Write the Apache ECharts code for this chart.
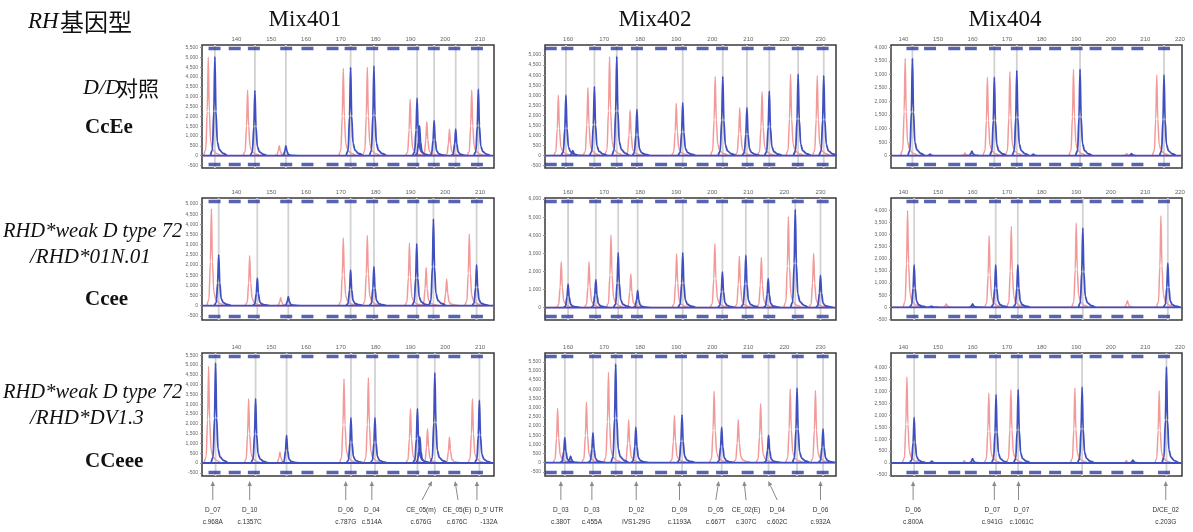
<!DOCTYPE html>
<html>
<head>
<meta charset="utf-8">
<title>RH genotyping electropherograms</title>
<script src="https://cdn.jsdelivr.net/npm/echarts@6/dist/echarts.min.js"></script>
<style>
  html, body { margin: 0; padding: 0; background: #fff; }
  #chart { width: 1193px; height: 532px; }
</style>
</head>
<body>
<div id="chart"></div>
<script>
// kits (columns)
const mixNames = ['Mix401', 'Mix402', 'Mix404'];

// size (bp) tick labels of each kit
const xTicks401 = [130, 140, 150, 160, 170, 180, 190, 200, 210];
const xTicks402 = [160, 170, 180, 190, 200, 210, 220, 230];
const xTicks404 = [140, 150, 160, 170, 180, 190, 200, 210, 220];

// RFU tick labels
const yTicksA = [-500, 0, 500, 1000, 1500, 2000, 2500, 3000, 3500, 4000, 4500, 5000, 5500];
const yTicksB = [-500, 0, 500, 1000, 1500, 2000, 2500, 3000, 3500, 4000, 4500, 5000];
const yTicksC = [0, 500, 1000, 1500, 2000, 2500, 3000, 3500, 4000];
const yTicksD = [-500, 0, 500, 1000, 1500, 2000, 2500, 3000, 3500, 4000];
const yTicksE = [0, 1000, 2000, 3000, 4000, 5000, 6000];

// bins (blue dashes at top / bottom of each panel), bp
const bins401 = [133.7, 139.5, 145.0, 154.3, 160.4, 167.6, 172.8, 179.0, 185.1, 190.8, 196.7, 202.6, 209.1];
const bins402 = [155.2, 159.8, 167.5, 173.5, 179.1, 185.8, 191.3, 197.3, 202.7, 209.8, 215.8, 223.7, 230.6];
const bins404 = [142.6, 147.7, 154.7, 159.5, 166.5, 172.8, 178.1, 183.9, 190.1, 195.6, 201.9, 207.7, 215.4];

// peaks [bp, RFU] — row 1: D/D control CcEe
const red401_dd  = [[131.9, 5000], [143.2, 3340], [152.3, 500], [170.7, 4440], [177.6, 4490], [189.9, 2870], [194.7, 1740], [201.2, 1350], [207.6, 3340]];
const blue401_dd = [[133.8, 5030], [145.3, 3310], [154.2, 500], [172.8, 4490], [179.5, 4560], [191.9, 2920], [192.6, 1520], [196.8, 1790], [203.0, 1350], [209.5, 3380]];
const red402_dd  = [[157.3, 3000], [165.5, 3380], [171.5, 4930], [177.2, 2270], [190.0, 2600], [200.8, 3930], [207.6, 2380], [213.8, 3170], [221.7, 4050], [229.1, 3970]];
const blue402_dd = [[159.4, 3000], [161.3, 250], [167.3, 3430], [173.5, 4930], [179.1, 2300], [191.8, 2630], [202.9, 3930], [209.6, 2380], [215.8, 3200], [223.8, 4050], [230.9, 3970]];
const red404_dd  = [[140.5, 3595], [157.8, 100], [164.3, 2896], [170.8, 3104], [189.2, 3190], [204.6, 80], [213.3, 2980]];
const blue404_dd = [[142.6, 3595], [147.7, 60], [159.8, 170], [166.3, 2896], [172.8, 3141], [177.6, 60], [191.1, 3190], [206.0, 80], [215.4, 2980]];

// row 2: RHD*weak D type 72 / RHD*01N.01, Ccee
const red401_w72  = [[132.8, 4770], [143.8, 2467], [152.7, 395], [170.7, 3322], [177.6, 3454], [189.7, 3076], [194.5, 1875], [200.4, 1316], [206.9, 3520]];
const blue401_w72 = [[134.9, 2500], [146.0, 1349], [154.9, 444], [172.8, 1760], [179.5, 1924], [191.8, 3043], [196.6, 4260], [209.0, 2007]];
const red402_w72  = [[158.1, 2528], [165.8, 2528], [171.9, 4015], [177.4, 1859], [190.1, 2974], [200.7, 3532], [207.5, 2844], [213.6, 2788], [221.1, 5037], [228.1, 2993]];
const blue402_w72 = [[160.0, 1301], [167.7, 1543], [173.9, 3030], [179.3, 929], [191.8, 3030], [202.8, 1970], [209.3, 2900], [215.5, 1599], [223.0, 5428], [230.0, 1784]];
const red404_w72  = [[141.2, 3994], [152.4, 140], [164.8, 2948], [171.2, 3333], [190.0, 3471], [204.8, 275], [214.5, 3774]];
const blue404_w72 = [[143.1, 1749], [148.1, 50], [160.0, 140], [166.7, 1749], [173.1, 1749], [191.9, 3264], [216.5, 1818]];

// row 3: RHD*weak D type 72 / RHD*DV1.3, CCeee
const red401_dv  = [[132.0, 4932], [143.5, 3282], [152.5, 561], [170.9, 4303], [177.9, 4354], [190.0, 2772], [194.9, 1752], [201.2, 1327], [207.8, 3282]];
const blue401_dv = [[134.0, 5102], [145.5, 3282], [154.4, 1412], [172.9, 2313], [179.8, 2313], [192.0, 2772], [192.7, 1327], [197.0, 4609], [209.8, 3197]];
const red402_dv  = [[157.1, 2971], [165.1, 3297], [171.2, 4928], [176.8, 2337], [189.5, 2572], [200.5, 3895], [207.2, 2355], [213.4, 3207], [221.6, 4022], [228.6, 3931]];
const blue402_dv = [[159.1, 1359], [160.7, 362], [166.9, 1630], [173.2, 5380], [178.8, 1938], [191.6, 2609], [202.6, 1938], [215.6, 1486], [223.5, 4058], [230.7, 1848]];
const red404_dv  = [[141.0, 3620], [157.6, 100], [164.7, 2937], [171.1, 3074], [189.6, 3142], [204.5, 100], [214.0, 3033]];
const blue404_dv = [[143.1, 1913], [148.2, 80], [160.0, 180], [166.8, 2869], [173.2, 3074], [191.7, 3183], [206.4, 120], [216.1, 4030]];

// probe annotations under the last row
const arrowNames401 = ['D_07', 'D_10', 'D_06', 'D_04', 'CE_05(m)', 'CE_05(E)', "D_5' UTR"];
const arrowAlleles401 = ['c.968A', 'c.1357C', 'c.787G', 'c.514A', 'c.676G', 'c.676C', '-132A'];
const arrowTips401 = [133.2, 143.8, 171.4, 178.9, 196.2, 202.8, 209.1];
const arrowNames402 = ['D_03', 'D_03', 'D_02', 'D_09', 'D_05', 'CE_02(E)', 'D_04', 'D_06'];
const arrowAlleles402 = ['c.380T', 'c.455A', 'IVS1-29G', 'c.1193A', 'c.667T', 'c.307C', 'c.602C', 'c.932A'];
const arrowTips402 = [158.0, 166.6, 178.9, 190.9, 201.8, 208.8, 215.5, 230.0];
const arrowNames404 = ['D_06', 'D_07', 'D_07', 'D/CE_02'];
const arrowAlleles404 = ['c.800A', 'c.941G', 'c.1061C', 'c.203G'];
const arrowTips404 = [142.8, 166.3, 173.3, 215.9];

// ---- layout / style ----
const layout = {
  colX: [202, 545, 891],
  colW: [292, 291, 291],
  rowY: [45, 198, 353],
  rowH: [123, 122, 123],
  xRanges: [[130.1, 214.0], [153.6, 234.3], [136.4, 220.6]],
  yRanges: [
    [[-625, 5625], [-617, 5500], [-454, 4086]],
    [[-707, 5296], [-688, 6060], [-523, 4504]],
    [[-663, 5612], [-725, 5978], [-546, 4617]]
  ],
  // px offset of arrow tail / text from the arrow tip
  tailShift: [[0, 0, 0, 0, -10, 3, 0], [0, 0, 0, 0, -3, 2, 9, 0], [0, 0, 0, 0]],
  textShift: [[0, 0, 0, 0, -11, 2, 12], [0, 0, 0, 0, -3, 2, 9, 0], [0, -2, 3, 0]]
};
const RED = '#f29a9a';
const BLUE = '#3f4fc0';
const GUIDE = '#d2d2d2';
const BIN = '#2e3d9e';
const SERIF = '"Liberation Serif", "Times New Roman", serif';
const CJK = '"Noto Sans CJK SC", sans-serif';
const SANS = '"Liberation Sans", Arial, sans-serif';
// drawing shape of one capillary peak (offsets in bp, fraction of apex height)
const peakDx = [-1.3, -0.7, -0.3, 0, 0.3, 0.7, 1.3, 2.3, 3.6];
const peakFr = [0, 0.06, 0.45, 1, 0.45, 0.14, 0.06, 0.025, 0];

const panels = [
  { red: red401_dd, blue: blue401_dd, yTicks: yTicksA },
  { red: red402_dd, blue: blue402_dd, yTicks: yTicksB },
  { red: red404_dd, blue: blue404_dd, yTicks: yTicksC },
  { red: red401_w72, blue: blue401_w72, yTicks: yTicksB },
  { red: red402_w72, blue: blue402_w72, yTicks: yTicksE },
  { red: red404_w72, blue: blue404_w72, yTicks: yTicksD },
  { red: red401_dv, blue: blue401_dv, yTicks: yTicksA },
  { red: red402_dv, blue: blue402_dv, yTicks: yTicksA },
  { red: red404_dv, blue: blue404_dv, yTicks: yTicksD }
];
const xTicksByCol = [xTicks401, xTicks402, xTicks404];
const binsByCol = [bins401, bins402, bins404];

function trace(peaks, xr) {
  const pts = [[xr[0], 0], [xr[1], 0], [xr[1], '-']];
  peaks.forEach(([x, h]) => {
    peakDx.forEach((d, k) => pts.push([x + d, h * peakFr[k]]));
    pts.push([x + 3.7, '-']);
  });
  return pts;
}

function guides(blue) {
  const out = [];
  blue.forEach(([x, h]) => {
    if (h < 400) return;
    if (out.length && Math.abs(out[out.length - 1] - x) < 1.2) return;
    out.push(x);
  });
  return out;
}

const grids = [], xAxes = [], yAxes = [], series = [];
panels.forEach((p, i) => {
  const r = Math.floor(i / 3), c = i % 3;
  const xr = layout.xRanges[c], yr = layout.yRanges[r][c];
  grids.push({
    left: layout.colX[c], top: layout.rowY[r],
    width: layout.colW[c], height: layout.rowH[r],
    show: true, borderColor: '#3a3a3a', borderWidth: 1.5, backgroundColor: '#fff'
  });
  xAxes.push({
    gridIndex: i, type: 'value', position: 'top', min: xr[0], max: xr[1],
    axisLine: { show: false }, axisTick: { show: false }, splitLine: { show: false },
    axisLabel: { customValues: xTicksByCol[c], fontSize: 6, color: '#666', margin: 3 }
  });
  yAxes.push({
    gridIndex: i, type: 'value', min: yr[0], max: yr[1],
    axisLine: { show: false }, splitLine: { show: false },
    axisTick: { show: true, customValues: p.yTicks, length: 2, lineStyle: { color: '#999' } },
    axisLabel: {
      customValues: p.yTicks, fontSize: 5, color: '#666', margin: 4,
      formatter: v => v.toLocaleString('en-US')
    }
  });
  const gData = [];
  guides(p.blue).forEach(g => gData.push([g, yr[0]], [g, yr[1]], [g, '-']));
  series.push({
    type: 'line', xAxisIndex: i, yAxisIndex: i, data: gData, z: 1,
    symbol: 'none', silent: true, lineStyle: { color: GUIDE, width: 1.8 }
  });
  series.push({
    type: 'line', xAxisIndex: i, yAxisIndex: i, data: trace(p.red, xr), z: 2,
    symbol: 'none', silent: true, connectNulls: false, smooth: 0.3, smoothMonotone: 'x',
    lineStyle: { color: RED, width: 1.5 }
  });
  series.push({
    type: 'line', xAxisIndex: i, yAxisIndex: i, data: trace(p.blue, xr), z: 3,
    symbol: 'none', silent: true, connectNulls: false, smooth: 0.3, smoothMonotone: 'x',
    lineStyle: { color: BLUE, width: 1.8 }
  });
  series.push({
    type: 'scatter', xAxisIndex: i, yAxisIndex: i, z: 4, silent: true,
    data: binsByCol[c].map(b => [b, yr[1]]),
    symbol: 'rect', symbolSize: [12, 3.5], symbolOffset: [0, 3.5],
    itemStyle: { color: BIN }
  });
  series.push({
    type: 'scatter', xAxisIndex: i, yAxisIndex: i, z: 4, silent: true,
    data: binsByCol[c].map(b => [b, yr[0]]),
    symbol: 'rect', symbolSize: [12, 3.5], symbolOffset: [0, -3.5],
    itemStyle: { color: BIN }
  });
});

const chart = echarts.init(document.getElementById('chart'));
chart.setOption({
  animation: false,
  backgroundColor: '#fff',
  grid: grids, xAxis: xAxes, yAxis: yAxes, series: series
});

// ---- texts and arrows ----
function txt(x, y, text, font, align, color) {
  return {
    type: 'text', x: x, y: y, silent: true,
    style: {
      text: text, font: font, fill: color || '#111',
      textAlign: align || 'left', textVerticalAlign: 'middle',
      align: align || 'left', verticalAlign: 'middle'
    }
  };
}

const els = [
  txt(28, 22, 'RH', 'italic 23px ' + SERIF),
  txt(60, 22, '基因型', '24px ' + CJK),
  txt(305, 20, mixNames[0], '23px ' + SERIF, 'center'),
  txt(655, 20, mixNames[1], '23px ' + SERIF, 'center'),
  txt(1005, 20, mixNames[2], '23px ' + SERIF, 'center'),
  txt(83, 88, 'D/D', 'italic 22px ' + SERIF),
  txt(117, 88, '对照', '21px ' + CJK),
  txt(85, 128, 'CcEe', 'bold 21px ' + SERIF),
  txt(3, 232, 'RHD*weak D type 72', 'italic 20.5px ' + SERIF),
  txt(30, 257, '/RHD*01N.01', 'italic 21px ' + SERIF),
  txt(85, 300, 'Ccee', 'bold 21px ' + SERIF),
  txt(3, 393, 'RHD*weak D type 72', 'italic 20.5px ' + SERIF),
  txt(30, 418, '/RHD*DV1.3', 'italic 21px ' + SERIF),
  txt(85, 462, 'CCeee', 'bold 21px ' + SERIF)
];

const arrowSets = [
  [arrowNames401, arrowAlleles401, arrowTips401],
  [arrowNames402, arrowAlleles402, arrowTips402],
  [arrowNames404, arrowAlleles404, arrowTips404]
];
const yTip = layout.rowY[2] + layout.rowH[2] + 5;
const yTail = yTip + 19;
arrowSets.forEach(([names, alleles, tips], c) => {
  tips.forEach((bp, k) => {
    const tx = chart.convertToPixel({ gridIndex: 6 + c }, [bp, 0])[0];
    const lx = tx + layout.tailShift[c][k];
    const sx = tx + layout.textShift[c][k];
    const dx = tx - lx, dy = yTip - yTail, len = Math.hypot(dx, dy);
    const ux = dx / len, uy = dy / len;
    const bx = tx - ux * 5, by = yTip - uy * 5;
    els.push({
      type: 'line', silent: true,
      shape: { x1: lx, y1: yTail, x2: bx, y2: by },
      style: { stroke: '#8a8a8a', lineWidth: 1 }
    });
    els.push({
      type: 'polygon', silent: true,
      shape: { points: [[tx, yTip], [bx - uy * 2.2, by + ux * 2.2], [bx + uy * 2.2, by - ux * 2.2]] },
      style: { fill: '#8a8a8a' }
    });
    els.push(txt(sx, yTail + 10, names[k], '6.5px ' + SANS, 'center', '#333'));
    els.push(txt(sx, yTail + 22, alleles[k], '6.5px ' + SANS, 'center', '#333'));
  });
});

chart.setOption({ graphic: { elements: els } });
</script>
</body>
</html>
